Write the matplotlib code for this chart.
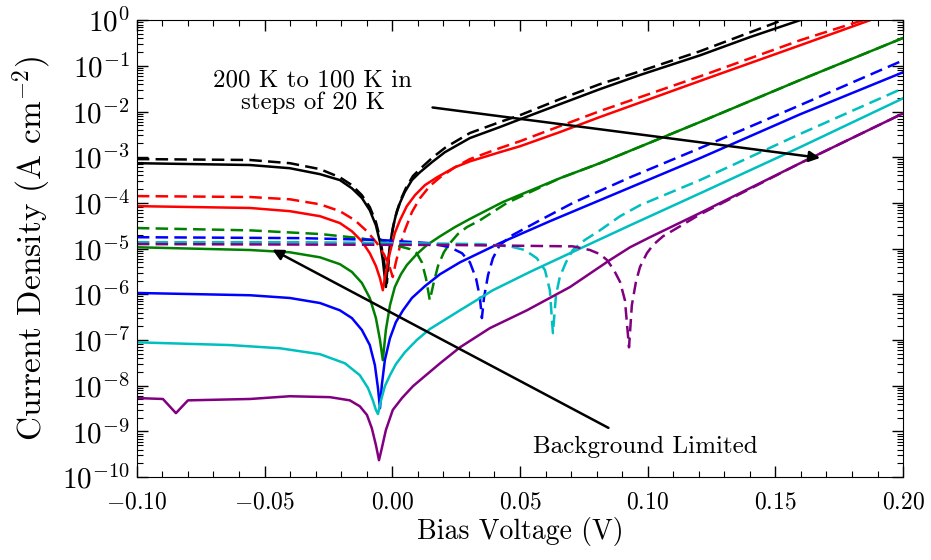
import numpy as np
import matplotlib
matplotlib.use('Agg')
import matplotlib.pyplot as plt
from matplotlib.ticker import FixedLocator, FuncFormatter, MultipleLocator, LogLocator, NullFormatter

plt.rcParams['font.family'] = 'serif'
plt.rcParams['font.serif'] = ['cmr10']
plt.rcParams['mathtext.fontset'] = 'cm'
plt.rcParams['axes.formatter.use_mathtext'] = True

# temperatures and colours (200 K -> 100 K)
temps = [200, 180, 160, 140, 120, 100]
colors = ['k', 'r', 'g', 'b', 'c', 'purple']

# dark current (solid): bias V and log10 J (A cm^-2)
v_dark_200 = [-0.1000, -0.0557, -0.0401, -0.0283, -0.0205, -0.0158, -0.0119, -0.0088, -0.0064, -0.0048,
              -0.0037, -0.0025, -0.0017, -0.0009, 0.0002, 0.0014, 0.0030, 0.0049, 0.0077, 0.0108,
              0.0155, 0.0206, 0.0304, 0.0421, 0.0500, 0.0656, 0.0813, 0.0970, 0.1205, 0.1401, 0.1597, 0.2000]
lj_dark_200 = [-3.13, -3.17, -3.24, -3.37, -3.50, -3.68, -3.89, -4.16, -4.49, -4.86,
               -5.25, -5.84, -5.30, -4.92, -4.55, -4.27, -4.00, -3.76, -3.50, -3.33,
               -3.11, -2.89, -2.58, -2.34, -2.17, -1.84, -1.51, -1.20, -0.77, -0.37, 0.00, 0.85]
v_dark_180 = [-0.1000, -0.0557, -0.0401, -0.0283, -0.0205, -0.0158, -0.0119, -0.0088, -0.0064, -0.0048,
              -0.0037, -0.0025, -0.0009, 0.0010, 0.0030, 0.0057, 0.0089, 0.0128, 0.0175, 0.0245,
              0.0304, 0.0421, 0.0500, 0.0656, 0.0813, 0.1205, 0.1597, 0.1871, 0.2000]
lj_dark_180 = [-4.07, -4.11, -4.18, -4.29, -4.44, -4.62, -4.84, -5.10, -5.38, -5.65,
               -5.91, -5.51, -5.08, -4.66, -4.38, -4.07, -3.83, -3.61, -3.44, -3.22,
               -3.09, -2.89, -2.76, -2.45, -2.12, -1.33, -0.55, 0.00, 0.28]
v_dark_160 = [-0.1000, -0.0557, -0.0401, -0.0283, -0.0205, -0.0158, -0.0119, -0.0088, -0.0064, -0.0048,
              -0.0037, -0.0025, -0.0009, 0.0010, 0.0034, 0.0057, 0.0096, 0.0136, 0.0187, 0.0245,
              0.0304, 0.0433, 0.0656, 0.0813, 0.1205, 0.1597, 0.2000]
lj_dark_160 = [-4.97, -5.03, -5.08, -5.19, -5.34, -5.51, -5.75, -6.08, -6.52, -7.00,
               -7.44, -6.78, -6.24, -5.84, -5.56, -5.36, -5.12, -4.92, -4.73, -4.53,
               -4.35, -3.98, -3.46, -3.13, -2.23, -1.31, -0.39]
v_dark_140 = [-0.1000, -0.0557, -0.0401, -0.0283, -0.0205, -0.0158, -0.0119, -0.0088, -0.0068, -0.0056,
              -0.0048, -0.0041, -0.0029, -0.0009, 0.0014, 0.0042, 0.0077, 0.0128, 0.0187, 0.0265,
              0.0421, 0.0617, 0.0813, 0.1205, 0.1597, 0.2000]
lj_dark_140 = [-5.97, -6.02, -6.08, -6.19, -6.35, -6.52, -6.78, -7.11, -7.55, -8.05,
               -8.49, -7.99, -7.44, -6.96, -6.61, -6.35, -6.08, -5.82, -5.56, -5.30,
               -4.88, -4.40, -3.94, -3.02, -2.06, -1.14]
v_dark_120 = [-0.1000, -0.0636, -0.0440, -0.0283, -0.0185, -0.0127, -0.0095, -0.0076, -0.0064, -0.0056,
              -0.0044, -0.0029, -0.0009, 0.0014, 0.0049, 0.0096, 0.0147, 0.0265, 0.0394, 0.0539,
              0.0696, 0.0931, 0.1205, 0.1597, 0.2000]
lj_dark_120 = [-7.05, -7.11, -7.18, -7.31, -7.51, -7.77, -8.05, -8.32, -8.53, -8.62,
               -8.32, -8.01, -7.77, -7.53, -7.27, -7.00, -6.76, -6.35, -5.91, -5.51,
               -5.10, -4.49, -3.79, -2.78, -1.71]
v_dark_100 = [-0.1000, -0.0898, -0.0847, -0.0800, -0.0557, -0.0401, -0.0244, -0.0166, -0.0127, -0.0099,
              -0.0080, -0.0064, -0.0052, -0.0041, -0.0025, 0.0002, 0.0038, 0.0081, 0.0136, 0.0187,
              0.0265, 0.0382, 0.0527, 0.0696, 0.0852, 0.0931, 0.1009, 0.1205, 0.1597, 0.2000]
lj_dark_100 = [-8.27, -8.29, -8.60, -8.32, -8.29, -8.23, -8.25, -8.32, -8.45, -8.64,
               -8.93, -9.30, -9.63, -9.37, -8.97, -8.53, -8.27, -8.01, -7.75, -7.51,
               -7.16, -6.74, -6.35, -5.84, -5.25, -4.97, -4.75, -4.22, -3.13, -2.04]

# with background flux (dashed)
v_bg_200 = [-0.1000, -0.0557, -0.0401, -0.0283, -0.0205, -0.0158, -0.0119, -0.0088, -0.0064, -0.0048,
            -0.0033, -0.0021, -0.0013, -0.0005, 0.0006, 0.0018, 0.0034, 0.0053, 0.0081, 0.0112,
            0.0159, 0.0210, 0.0304, 0.0421, 0.0500, 0.0656, 0.0813, 0.0970, 0.1205, 0.1518, 0.2000]
lj_bg_200 = [-3.04, -3.06, -3.13, -3.26, -3.44, -3.61, -3.83, -4.09, -4.42, -4.77,
             -5.25, -5.75, -5.21, -4.81, -4.46, -4.18, -3.92, -3.68, -3.41, -3.24,
             -3.00, -2.78, -2.47, -2.23, -2.08, -1.73, -1.40, -1.12, -0.68, -0.02, 0.95]
v_bg_180 = [-0.1000, -0.0557, -0.0401, -0.0283, -0.0205, -0.0146, -0.0099, -0.0060, -0.0033, -0.0013,
            0.0002, 0.0014, 0.0030, 0.0049, 0.0077, 0.0108, 0.0147, 0.0187, 0.0245, 0.0304,
            0.0421, 0.0500, 0.0656, 0.0813, 0.1205, 0.1597, 0.1843, 0.2000]
lj_bg_180 = [-3.85, -3.87, -3.92, -4.03, -4.18, -4.38, -4.62, -4.88, -5.12, -5.36,
             -5.62, -5.30, -4.95, -4.60, -4.20, -3.90, -3.63, -3.44, -3.22, -3.04,
             -2.80, -2.65, -2.32, -1.99, -1.23, -0.44, 0.00, 0.33]
v_bg_160 = [-0.1000, -0.0557, -0.0283, -0.0127, -0.0029, 0.0030, 0.0069, 0.0096, 0.0116, 0.0132,
            0.0147, 0.0163, 0.0179, 0.0202, 0.0226, 0.0257, 0.0292, 0.0343, 0.0449, 0.0656,
            0.0813, 0.1205, 0.1597, 0.2000]
lj_bg_160 = [-4.55, -4.60, -4.68, -4.77, -4.86, -4.95, -5.01, -5.10, -5.30, -5.65,
             -6.13, -5.73, -5.38, -5.08, -4.88, -4.68, -4.53, -4.38, -4.00, -3.46,
             -3.13, -2.23, -1.31, -0.39]
v_bg_140 = [-0.1000, -0.0362, -0.0048, 0.0147, 0.0226, 0.0273, 0.0304, 0.0328, 0.0343, 0.0351,
            0.0359, 0.0375, 0.0394, 0.0421, 0.0472, 0.0578, 0.0707, 0.0931, 0.1205, 0.1597, 0.2000]
lj_bg_140 = [-4.75, -4.77, -4.81, -4.88, -4.97, -5.10, -5.30, -5.65, -6.06, -6.52,
             -6.08, -5.58, -5.21, -4.92, -4.70, -4.38, -4.00, -3.44, -2.80, -1.86, -0.88]
v_bg_120 = [-0.1000, -0.0362, 0.0030, 0.0343, 0.0461, 0.0519, 0.0566, 0.0598, 0.0617, 0.0629,
            0.0641, 0.0656, 0.0680, 0.0707, 0.0754, 0.0813, 0.0892, 0.0970, 0.1205, 0.1597, 0.2000]
lj_bg_120 = [-4.86, -4.86, -4.88, -4.90, -4.95, -5.03, -5.21, -5.47, -5.91, -6.85,
             -6.02, -5.62, -5.30, -5.03, -4.81, -4.60, -4.29, -4.05, -3.50, -2.49, -1.49]
v_bg_100 = [-0.1000, 0.0226, 0.0707, 0.0774, 0.0813, 0.0841, 0.0868, 0.0892, 0.0911, 0.0927,
            0.0938, 0.0954, 0.0970, 0.0997, 0.1021, 0.1060, 0.1127, 0.1205, 0.1597, 0.2000]
lj_bg_100 = [-4.90, -4.92, -4.95, -5.03, -5.12, -5.25, -5.47, -5.73, -6.13, -7.16,
             -6.24, -5.73, -5.40, -5.10, -4.92, -4.73, -4.51, -4.25, -3.13, -2.04]

dark = [(v_dark_200, lj_dark_200), (v_dark_180, lj_dark_180), (v_dark_160, lj_dark_160),
        (v_dark_140, lj_dark_140), (v_dark_120, lj_dark_120), (v_dark_100, lj_dark_100)]
bg = [(v_bg_200, lj_bg_200), (v_bg_180, lj_bg_180), (v_bg_160, lj_bg_160),
      (v_bg_140, lj_bg_140), (v_bg_120, lj_bg_120), (v_bg_100, lj_bg_100)]

fig = plt.figure(figsize=(9.31, 5.6), dpi=100)
ax = fig.add_axes([0.147, 0.148, 0.823, 0.816])

for (vd, jd), (vb, jb), c in zip(dark, bg, colors):
    ax.plot(vd, 10 ** np.array(jd), color=c, lw=1.8)
    ax.plot(vb, 10 ** np.array(jb), color=c, lw=1.8, ls='--', dashes=(5, 2.5))

ax.set_yscale('log')
ax.set_xlim(-0.10, 0.20)
ax.set_ylim(1e-10, 1e0)

ax.xaxis.set_major_locator(MultipleLocator(0.05))
ax.xaxis.set_minor_locator(MultipleLocator(0.01))
ax.xaxis.set_major_formatter(FuncFormatter(lambda v, p: '$%.2f$' % v))
ax.yaxis.set_major_locator(FixedLocator(10.0 ** np.arange(-10, 1)))
ax.yaxis.set_minor_locator(LogLocator(base=10, subs=np.arange(2, 10), numticks=100))
ax.yaxis.set_minor_formatter(NullFormatter())
ax.yaxis.set_major_formatter(FuncFormatter(lambda v, p: '$10^{%d}$' % int(round(np.log10(v)))))

ax.tick_params(which='both', direction='in', top=True, right=True)
ax.tick_params(which='major', length=8, width=1)
ax.tick_params(which='minor', length=4, width=0.8)
ax.tick_params(axis='x', labelsize=17, pad=10)
ax.tick_params(axis='y', labelsize=21, pad=5)

ax.set_xlabel('Bias Voltage (V)', fontsize=20, labelpad=3)
ax.set_ylabel(r'Current Density (A cm$^{-2}$)', fontsize=24, labelpad=6)

ax.annotate('', xy=(0.1686, 9.5e-4), xytext=(0.0147, 0.0125),
            arrowprops=dict(arrowstyle='-|>', color='k', lw=1.8, mutation_scale=16))
ax.text(-0.0311, 0.0266, '200 K to 100 K in\nsteps of 20 K', fontsize=18,
        ha='center', va='center', multialignment='center', linespacing=1.0)
ax.annotate('', xy=(-0.0479, 1.02e-5), xytext=(0.0856, 1.12e-9),
            arrowprops=dict(arrowstyle='-|>', color='k', lw=1.8, mutation_scale=16))
ax.text(0.0990, 4.5e-10, 'Background Limited', fontsize=18, ha='center', va='center')

fig.savefig('out.png', dpi=100)
